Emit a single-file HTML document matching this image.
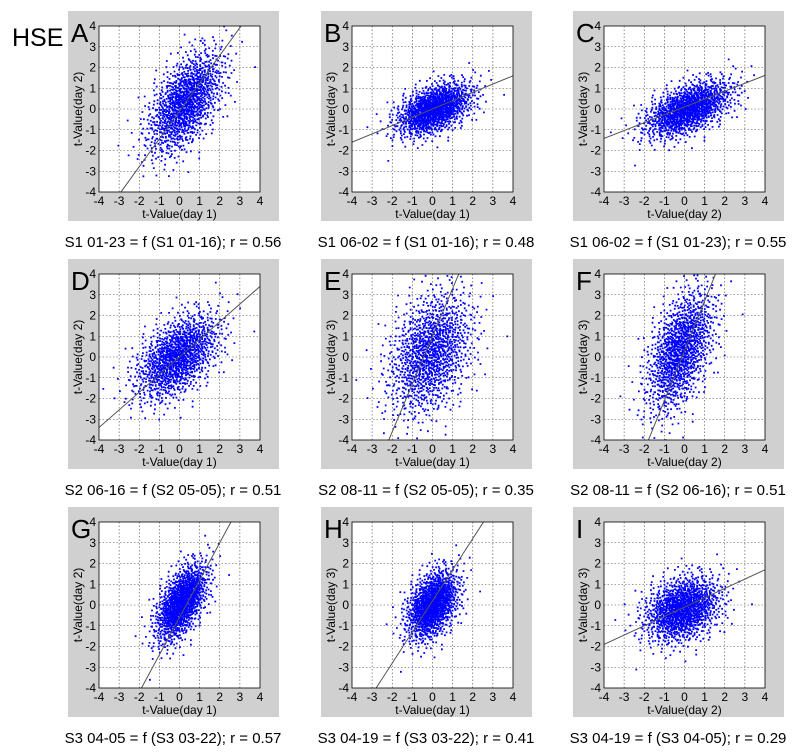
<!DOCTYPE html>
<html><head><meta charset="utf-8"><style>
body{margin:0;background:#fff;}
svg{display:block;font-family:"Liberation Sans",Arial,sans-serif;}
</style></head><body>
<svg id="fig" width="800" height="754" viewBox="0 0 800 754">
<text x="12" y="46" font-size="25" fill="#000">HSE</text>
</svg>
<script>
// ---- data ----
const panelLetters = ["A","B","C","D","E","F","G","H","I"];
const captions = [
 "S1 01-23 = f (S1 01-16); r = 0.56","S1 06-02 = f (S1 01-16); r = 0.48","S1 06-02 = f (S1 01-23); r = 0.55",
 "S2 06-16 = f (S2 05-05); r = 0.51","S2 08-11 = f (S2 05-05); r = 0.35","S2 08-11 = f (S2 06-16); r = 0.51",
 "S3 04-05 = f (S3 03-22); r = 0.57","S3 04-19 = f (S3 03-22); r = 0.41","S3 04-19 = f (S3 04-05); r = 0.29"];
const xDays = [1,1,2,1,1,2,1,1,2];
const yDays = [2,3,3,2,3,3,2,3,3];
const slopes = [1.34,0.40,0.38,0.85,2.30,2.40,1.80,1.50,0.45];
const intercepts = [-0.1,0.0,0.1,0.0,1.0,0.3,-0.6,0.2,-0.1];
const meanX = [0.3,0.1,0.2,-0.1,-0.1,-0.2,0.1,0.0,-0.1];
const meanY = [0.3,0.0,0.0,0.0,0.2,0.3,0.1,0.0,-0.2];
const sdX = [0.95,0.95,1.1,1.05,1.05,0.85,0.65,0.65,0.95];
const sdY = [1.25,0.65,0.7,1.05,1.5,1.5,0.95,0.85,0.8];
const corr = [0.56,0.48,0.55,0.51,0.35,0.51,0.57,0.41,0.29];
const ticks = [-4,-3,-2,-1,0,1,2,3,4];
const nPoints = 1250;
// ---- layout ----
const NS="http://www.w3.org/2000/svg";
const svg=document.getElementById('fig');
const colX=[68,321,573], rowY=[11,259,507];
function el(t,a,p){const e=document.createElementNS(NS,t);for(const k in a)e.setAttribute(k,a[k]);(p||svg).appendChild(e);return e;}
function halton(i,b){let f=1,r=0;while(i>0){f/=b;r+=f*(i%b);i=Math.floor(i/b);}return r;}
panelLetters.forEach((L,p)=>{
  const gx=colX[p%3], gy=rowY[Math.floor(p/3)];
  const g=el('g',{});
  
  
  const bg=el('rect',{x:gx,y:gy,width:211,height:210,fill:'#d0d0d0'},g);
  
  
  const px=gx+31, py=gy+15, pw=161, ph=166;
  const sx=v=>px+(v+4)/8*pw, sy=v=>py+ph-(v+4)/8*ph;
  el('rect',{x:px,y:py,width:pw,height:ph,fill:'#fff'},g);
  const cid='clip'+p;
  const cp=el('clipPath',{id:cid},g); el('rect',{x:px,y:py,width:pw,height:ph},cp);
  ticks.forEach(t=>{
    if(t>-4&&t<4){
      el('line',{x1:sx(t),x2:sx(t),y1:py,y2:py+ph,stroke:'#444','stroke-width':0.6,'stroke-dasharray':'1.5,2'},g);
      el('line',{x1:px,x2:px+pw,y1:sy(t),y2:sy(t),stroke:'#444','stroke-width':0.6,'stroke-dasharray':'1.5,2'},g);
    }
    const xt=el('text',{x:sx(t),y:py+ph+13,'font-size':12,'text-anchor':'middle'},g);xt.textContent=t;
    
    
    const yt=el('text',{x:px-3,y:sy(t)+4,'font-size':12,'text-anchor':'end'},g);yt.textContent=t;
    
    
  });
  const sg=el('g',{'clip-path':'url(#'+cid+')'},g);
  
  
  let d='';
  const r=corr[p];
  for(let i=1;i<=nPoints;i++){
    const u1=Math.max(halton(i,2),1e-4), u2=halton(i,3);
    const z1=Math.sqrt(-2*Math.log(u1))*Math.cos(2*Math.PI*u2);
    const z2=Math.sqrt(-2*Math.log(u1))*Math.sin(2*Math.PI*u2);
    const x=meanX[p]+sdX[p]*z1;
    const y=meanY[p]+sdY[p]*(r*z1+Math.sqrt(1-r*r)*z2);
    d+='M'+(sx(x)-0.9).toFixed(1)+' '+(sy(y)-0.9).toFixed(1)+'h1.8v1.8h-1.8z';
  }
  el('path',{d:d,fill:'#0000ff'},sg);
  const x0=-4,x1=4;
  const ln=el('line',{x1:sx(x0),y1:sy(slopes[p]*x0+intercepts[p]),x2:sx(x1),y2:sy(slopes[p]*x1+intercepts[p]),stroke:'#555','stroke-width':1},sg);
  
  
  el('rect',{x:px,y:py,width:pw,height:ph,fill:'none',stroke:'#000','stroke-width':0.8},g);
  const xl=el('text',{x:px+pw/2,y:py+ph+26,'font-size':12,'text-anchor':'middle'},g);xl.textContent='t-Value(day '+xDays[p]+')';
  
  
  const yl=el('text',{x:0,y:0,'font-size':12,'text-anchor':'middle',transform:'translate('+(px-17)+','+(py+ph/2)+') rotate(-90)'},g);yl.textContent='t-Value(day '+yDays[p]+')';
  
  
  const lt=el('text',{x:gx+3,y:gy+31,'font-size':26},g);lt.textContent=L;
  
  
  const ct=el('text',{x:gx+105,y:gy+236,'font-size':15,'text-anchor':'middle'},g);ct.textContent=captions[p];
  
  
});
</script>
</body></html>
